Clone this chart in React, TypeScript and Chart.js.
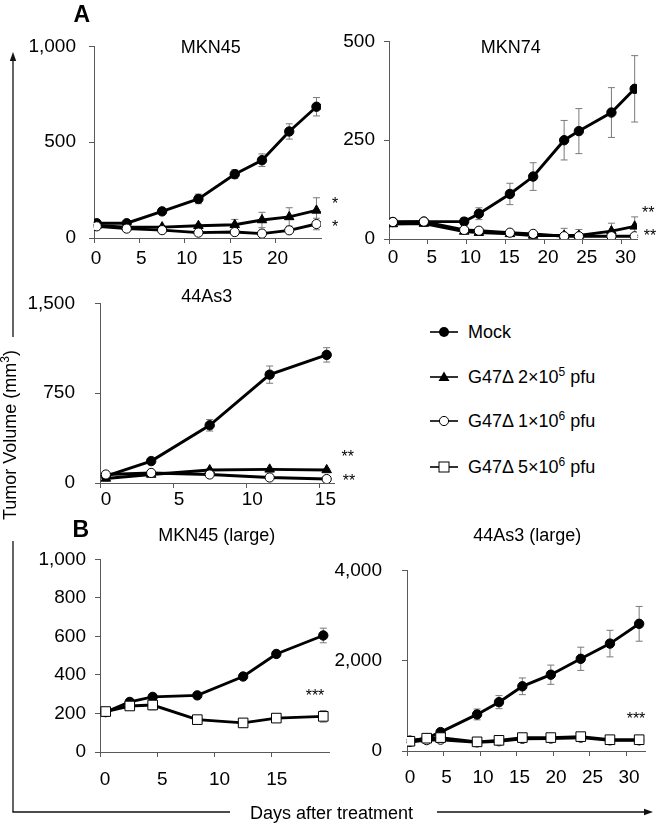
import React, { useEffect, useRef } from 'react';
import { Chart, registerables } from 'chart.js';
Chart.register(...registerables);

const FONT = 'Arial, "Liberation Sans", Helvetica, sans-serif';

// ---------- Panel A: MKN45 ----------
const mkn45Days = [0.3, 3.6, 7.5, 11.5, 15.5, 18.5, 21.5, 24.5];
const mkn45Mock = [77, 77, 139, 204, 333, 406, 556, 685];
const mkn45MockErr = [5, 5, 10, 25, 23, 33, 40, 48];
const mkn45Low = [66, 57, 57, 64, 69, 94, 110, 144];
const mkn45LowErr = [4, 4, 5, 8, 28, 40, 48, 66];
const mkn45Mid = [61, 49, 41, 28, 31, 23, 40, 73];
const mkn45MidErr = [4, 4, 4, 5, 5, 5, 8, 30];

// ---------- Panel A: MKN74 ----------
const mkn74Days = [0.5, 4.5, 9.7, 11.6, 15.6, 18.6, 22.6, 24.5, 28.7, 31.7];
const mkn74Mock = [43, 44, 44, 64, 114, 158, 250, 273, 320, 380];
const mkn74MockErr = [5, 5, 10, 15, 27, 35, 50, 57, 63, 84];
const mkn74Low = [38, 39, 19, 16, 13, 9, 9, 9, 20, 32];
const mkn74LowErr = [3, 3, 5, 5, 5, 5, 18, 15, 20, 24];
const mkn74Mid = [43, 44, 23, 21, 16, 13, 7, 7, 7, 7];
const mkn74MidErr = [3, 3, 3, 3, 3, 3, 3, 3, 3, 3];

// ---------- Panel A: 44As3 ----------
const as3Days = [0.4, 3.5, 7.5, 11.6, 15.5];
const as3Mock = [58, 183, 482, 905, 1070];
const as3MockErr = [8, 12, 48, 72, 60];
const as3Low = [38, 71, 109, 114, 109];
const as3LowErr = [5, 5, 8, 8, 8];
const as3Mid = [71, 84, 71, 46, 33];
const as3MidErr = [5, 5, 5, 5, 5];

// ---------- Panel B: MKN45 (large) ----------
const mkn45LDays = [0.5, 2.6, 4.6, 8.5, 12.5, 15.4, 19.5];
const mkn45LMock = [207, 260, 286, 294, 392, 509, 605];
const mkn45LMockErr = [8, 10, 12, 10, 15, 12, 38];
const mkn45LHigh = [210, 239, 244, 168, 151, 176, 185];
const mkn45LHighErr = [8, 10, 25, 10, 8, 15, 30];

// ---------- Panel B: 44As3 (large) ----------
const as3LDays = [0.4, 2.7, 4.6, 9.6, 12.6, 15.8, 19.7, 23.8, 27.8, 31.8];
const as3LMock = [230, 284, 419, 810, 1082, 1433, 1690, 2042, 2379, 2817];
const as3LMockErr = [30, 40, 50, 120, 145, 185, 213, 257, 294, 385];
const as3LMid = [200, 240, 250, 190, 215, 270, 275, 295, 235, 235];
const as3LMidErr = [20, 20, 25, 25, 25, 25, 25, 25, 25, 25];
const as3LHigh = [216, 284, 297, 203, 236, 297, 297, 318, 250, 250];
const as3LHighErr = [30, 30, 30, 30, 30, 30, 30, 30, 30, 30];

// tick labels
const xTicks45 = [0, 5, 10, 15, 20];
const xTicks74 = [0, 5, 10, 15, 20, 25, 30];
const xTicksAs3 = [0, 5, 10, 15];
const xTicks45L = [0, 5, 10, 15];
const xTicksAs3L = [0, 5, 10, 15, 20, 25, 30];

const legendLabels = ['Mock', 'G47Δ 2×10^5 pfu', 'G47Δ 1×10^6 pfu', 'G47Δ 5×10^6 pfu'];

type Kind = 'mock' | 'low' | 'mid' | 'high';
type Series = { kind: Kind; days: number[]; values: number[]; errors: number[] };

const KIND_STYLE: Record<Kind, any> = {
  mock: { pointStyle: 'circle', pointRadius: 4.7, pointBackgroundColor: '#000', order: 3 },
  low: { pointStyle: 'triangle', pointRadius: 5.5, pointBackgroundColor: '#000', order: 2 },
  mid: { pointStyle: 'circle', pointRadius: 4.6, pointBackgroundColor: '#fff', order: 1 },
  high: { pointStyle: 'rect', pointRadius: 6.8, pointBackgroundColor: '#fff', order: 0 },
};

const errorBarPlugin = {
  id: 'errorBars',
  beforeDatasetsDraw(chart: any) {
    const { ctx } = chart;
    const xs = chart.scales.x;
    const ys = chart.scales.y;
    ctx.save();
    ctx.strokeStyle = '#7a7a7a';
    ctx.lineWidth = 1;
    chart.data.datasets.forEach((ds: any) => {
      const errs: number[] | undefined = ds.errors;
      if (!errs) return;
      ds.data.forEach((p: any, i: number) => {
        const e = errs[i];
        if (!e) return;
        const x = xs.getPixelForValue(p.x);
        const yTop = ys.getPixelForValue(p.y + e);
        const yBot = ys.getPixelForValue(Math.max(0, p.y - e));
        ctx.beginPath();
        ctx.moveTo(x, yTop);
        ctx.lineTo(x, yBot);
        ctx.moveTo(x - 3.5, yTop);
        ctx.lineTo(x + 3.5, yTop);
        ctx.moveTo(x - 3.5, yBot);
        ctx.lineTo(x + 3.5, yBot);
        ctx.stroke();
      });
    });
    ctx.restore();
  },
};

type PanelProps = {
  L: number; T: number; R: number; B: number;
  xMax: number; xTicks: number[];
  yMax: number; yStep: number;
  yPad: number; xPad: number; xLabelOffset: number;
  series: Series[];
};

const PADL = 80, PADT = 14, PADR = 10, XH = 44;

function Panel(props: PanelProps) {
  const ref = useRef<HTMLCanvasElement>(null);
  const { L, T, R, B } = props;
  const w = R - L + PADL + PADR;
  const h = B - T + PADT + XH;
  useEffect(() => {
    const axisColor = '#595959';
    const chart = new Chart(ref.current as HTMLCanvasElement, {
      type: 'scatter',
      data: {
        datasets: props.series.map((s) => ({
          data: s.days.map((d, i) => ({ x: d, y: s.values[i] })),
          errors: s.errors,
          showLine: true,
          borderColor: '#000',
          borderWidth: 2.9,
          tension: 0,
          pointBorderColor: '#000',
          pointBorderWidth: 1,
          ...KIND_STYLE[s.kind],
        })) as any,
      },
      options: {
        animation: false,
        responsive: false,
        maintainAspectRatio: false,
        layout: { padding: { left: 0, top: PADT, right: PADR, bottom: 0 } },
        plugins: { legend: { display: false }, tooltip: { enabled: false } },
        scales: {
          x: {
            type: 'linear',
            min: 0,
            max: props.xMax,
            afterBuildTicks: (s: any) => {
              s.ticks = props.xTicks.map((v) => ({ value: v }));
            },
            afterFit: (s: any) => {
              s.height = XH;
            },
            grid: { drawOnChartArea: false, drawTicks: true, tickLength: 5, color: axisColor },
            border: { display: true, color: axisColor, width: 1 },
            ticks: {
              font: { family: FONT, size: 19 },
              color: '#000',
              padding: props.xPad,
              labelOffset: props.xLabelOffset,
              maxRotation: 0,
              autoSkip: false,
            },
          },
          y: {
            type: 'linear',
            min: 0,
            max: props.yMax,
            afterFit: (s: any) => {
              s.width = PADL;
            },
            grid: { drawOnChartArea: false, drawTicks: true, tickLength: 5, color: axisColor },
            border: { display: true, color: axisColor, width: 1 },
            ticks: {
              stepSize: props.yStep,
              font: { family: FONT, size: 19 },
              color: '#000',
              padding: props.yPad,
              callback: (v: any) => Number(v).toLocaleString('en-US'),
            },
          },
        },
      },
      plugins: [errorBarPlugin],
    });
    return () => chart.destroy();
  }, []);
  return (
    <canvas
      ref={ref}
      width={w}
      height={h}
      style={{ position: 'absolute', left: L - PADL, top: T - PADT, width: w, height: h }}
    />
  );
}

const txt: React.CSSProperties = {
  position: 'absolute',
  fontFamily: FONT,
  fontSize: 18,
  lineHeight: '18px',
  color: '#000',
  whiteSpace: 'nowrap',
};

function Title({ x, y, children }: { x: number; y: number; children: React.ReactNode }) {
  return <div style={{ ...txt, left: x, top: y, transform: 'translate(-50%,-50%)' }}>{children}</div>;
}

function Stars({ x, y, s }: { x: number; y: number; s: string }) {
  return (
    <div style={{ ...txt, fontSize: 16, lineHeight: '16px', left: x, top: y - 4.3, transform: 'translateX(-50%)' }}>{s}</div>
  );
}

function LegendLabel({ label }: { label: string }) {
  const m = label.match(/^(.*)\^(\d+)(.*)$/);
  if (!m) return <>{label}</>;
  return (
    <>
      {m[1]}
      <span style={{ fontSize: 12, position: 'relative', top: -7 }}>{m[2]}</span>
      {m[3]}
    </>
  );
}

function LegendMarker({ kind }: { kind: Kind }) {
  let mark: React.ReactNode = null;
  if (kind === 'mock') mark = <circle cx={14} cy={8} r={5} fill="#000" />;
  if (kind === 'low') mark = <polygon points="14,2.5 19.5,12 8.5,12" fill="#000" />;
  if (kind === 'mid') mark = <circle cx={14} cy={8} r={4.6} fill="#fff" stroke="#000" strokeWidth={1} />;
  if (kind === 'high') mark = <rect x={9} y={3} width={10} height={10} fill="#fff" stroke="#000" strokeWidth={1} />;
  return (
    <svg width={28} height={16} style={{ position: 'absolute', left: 0, top: -8 }}>
      <line x1={0} y1={8} x2={28} y2={8} stroke="#000" strokeWidth={1.6} />
      {mark}
    </svg>
  );
}

export default function App() {
  const legendKinds: Kind[] = ['mock', 'low', 'mid', 'high'];
  const legendY = [332, 377, 421, 467];
  return (
    <div style={{ position: 'absolute', left: 0, top: 0, width: 660, height: 829, background: '#fff', overflow: 'hidden' }}>
      <Panel
        L={94} T={36} R={321} B={238}
        xMax={25} xTicks={xTicks45} yMax={1000} yStep={500} yPad={13} xPad={4} xLabelOffset={2}
        series={[
          { kind: 'mock', days: mkn45Days, values: mkn45Mock, errors: mkn45MockErr },
          { kind: 'low', days: mkn45Days, values: mkn45Low, errors: mkn45LowErr },
          { kind: 'mid', days: mkn45Days, values: mkn45Mid, errors: mkn45MidErr },
        ]}
      />
      <Panel
        L={389} T={35} R={637} B={239}
        xMax={32} xTicks={xTicks74} yMax={500} yStep={250} yPad={9} xPad={2} xLabelOffset={4}
        series={[
          { kind: 'mock', days: mkn74Days, values: mkn74Mock, errors: mkn74MockErr },
          { kind: 'low', days: mkn74Days, values: mkn74Low, errors: mkn74LowErr },
          { kind: 'mid', days: mkn74Days, values: mkn74Mid, errors: mkn74MidErr },
        ]}
      />
      <Panel
        L={100} T={286} R={334} B={483}
        xMax={16} xTicks={xTicksAs3} yMax={1500} yStep={750} yPad={20} xPad={0} xLabelOffset={6}
        series={[
          { kind: 'mock', days: as3Days, values: as3Mock, errors: as3MockErr },
          { kind: 'low', days: as3Days, values: as3Low, errors: as3LowErr },
          { kind: 'mid', days: as3Days, values: as3Mid, errors: as3MidErr },
        ]}
      />
      <Panel
        L={100} T={553} R={329} B={752}
        xMax={20} xTicks={xTicks45L} yMax={1000} yStep={200} yPad={9} xPad={11} xLabelOffset={5}
        series={[
          { kind: 'mock', days: mkn45LDays, values: mkn45LMock, errors: mkn45LMockErr },
          { kind: 'high', days: mkn45LDays, values: mkn45LHigh, errors: mkn45LHighErr },
        ]}
      />
      <Panel
        L={407} T={553} R={645} B={751}
        xMax={32.6} xTicks={xTicksAs3L} yMax={4000} yStep={2000} yPad={20} xPad={10} xLabelOffset={3}
        series={[
          { kind: 'mock', days: as3LDays, values: as3LMock, errors: as3LMockErr },
          { kind: 'mid', days: as3LDays, values: as3LMid, errors: as3LMidErr },
          { kind: 'high', days: as3LDays, values: as3LHigh, errors: as3LHighErr },
        ]}
      />

      {/* panel titles */}
      <Title x={210.7} y={46.5}>MKN45</Title>
      <Title x={510.7} y={46.7}>MKN74</Title>
      <Title x={206.7} y={295.5}>44As3</Title>
      <Title x={216.7} y={535.3}>MKN45 (large)</Title>
      <Title x={527.2} y={535.3}>44As3 (large)</Title>

      {/* significance */}
      <Stars x={335} y={200.7} s="*" />
      <Stars x={335} y={223} s="*" />
      <Stars x={648.3} y={209.3} s="**" />
      <Stars x={650} y={232.3} s="**" />
      <Stars x={347.7} y={453.3} s="**" />
      <Stars x={349} y={477.3} s="**" />
      <Stars x={315} y={692.7} s="***" />
      <Stars x={636} y={715} s="***" />

      {/* panel letters */}
      <div style={{ ...txt, fontSize: 23, lineHeight: '23px', fontWeight: 'bold', left: 81.7, top: 14, transform: 'translate(-50%,-50%)' }}>A</div>
      <div style={{ ...txt, fontSize: 23, lineHeight: '23px', fontWeight: 'bold', left: 80.8, top: 529, transform: 'translate(-50%,-50%)' }}>B</div>

      {/* legend */}
      {legendKinds.map((k, i) => (
        <div key={k} style={{ position: 'absolute', left: 430, top: legendY[i], width: 230, height: 0 }}>
          <LegendMarker kind={k} />
          <div style={{ ...txt, left: 38, top: -9 }}>
            <LegendLabel label={legendLabels[i]} />
          </div>
        </div>
      ))}

      {/* outer axes arrows */}
      <svg width={660} height={829} style={{ position: 'absolute', left: 0, top: 0, pointerEvents: 'none' }}>
        <g stroke="#111" strokeWidth={1.3} fill="none">
          <line x1={13} y1={60} x2={13} y2={337} />
          <line x1={13} y1={541} x2={13} y2={812} />
          <line x1={12.4} y1={812} x2={230} y2={812} />
          <line x1={437} y1={812} x2={645} y2={812} />
        </g>
        <polygon points="13,52 9.8,61 16.2,61" fill="#111" />
        <polygon points="653,812 644,808.8 644,815.2" fill="#111" />
      </svg>
      <div style={{ ...txt, left: 10.5, top: 435, transform: 'translate(-50%,-50%) rotate(-90deg)' }}>
        Tumor Volume (mm<span style={{ fontSize: 12, position: 'relative', top: -7 }}>3</span>)
      </div>
      <div style={{ ...txt, left: 250, top: 804 }}>Days after treatment</div>
    </div>
  );
}
